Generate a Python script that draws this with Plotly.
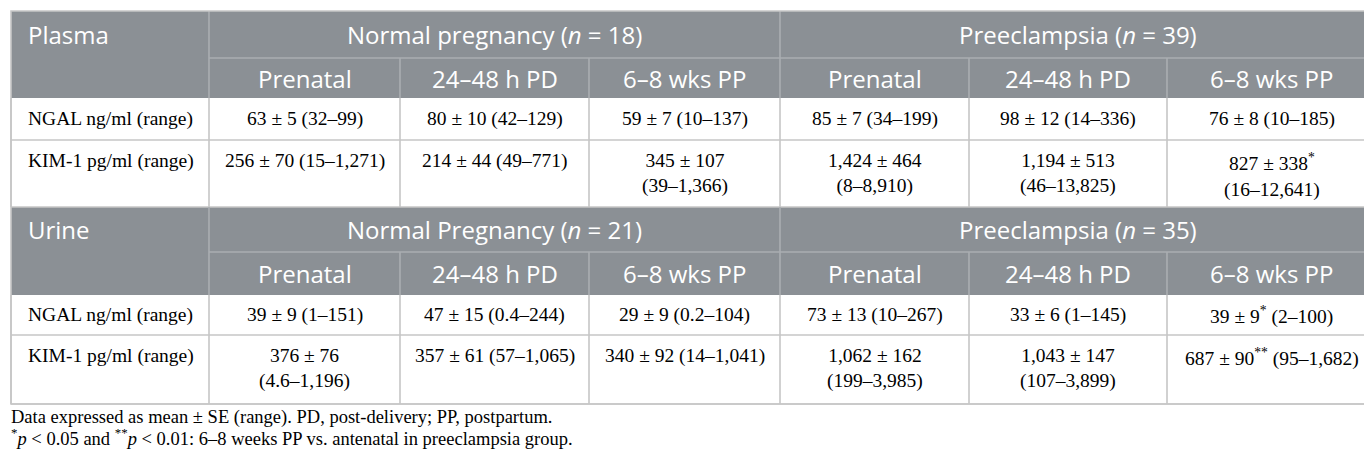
import plotly.graph_objects as go

# table content
subcols = ["Prenatal", "24–48 h PD", "6–8 wks PP"]
row_labels = ["NGAL ng/ml (range)", "KIM-1 pg/ml (range)"]

plasma_groups = ["Normal pregnancy (<i>n</i> = 18)", "Preeclampsia (<i>n</i> = 39)"]
plasma_ngal = ["63 ± 5 (32–99)", "80 ± 10 (42–129)", "59 ± 7 (10–137)",
               "85 ± 7 (34–199)", "98 ± 12 (14–336)", "76 ± 8 (10–185)"]
plasma_kim = ["256 ± 70 (15–1,271)", "214 ± 44 (49–771)", "345 ± 107<br>(39–1,366)",
              "1,424 ± 464<br>(8–8,910)", "1,194 ± 513<br>(46–13,825)",
              "827 ± 338<sup>*</sup><br>(16–12,641)"]

urine_groups = ["Normal Pregnancy (<i>n</i> = 21)", "Preeclampsia (<i>n</i> = 35)"]
urine_ngal = ["39 ± 9 (1–151)", "47 ± 15 (0.4–244)", "29 ± 9 (0.2–104)",
              "73 ± 13 (10–267)", "33 ± 6 (1–145)", "39 ± 9<sup>*</sup> (2–100)"]
urine_kim = ["376 ± 76<br>(4.6–1,196)", "357 ± 61 (57–1,065)", "340 ± 92 (14–1,041)",
             "1,062 ± 162<br>(199–3,985)", "1,043 ± 147<br>(107–3,899)",
             "687 ± 90<sup>**</sup> (95–1,682)"]

footnotes = ["Data expressed as mean ± SE (range). PD, post-delivery; PP, postpartum.",
             "<sup>*</sup><i>p</i> &lt; 0.05 and <sup>**</sup><i>p</i> &lt; 0.01: "
             "6–8 weeks PP vs. antenatal in preeclampsia group."]

blocks = [("Plasma", plasma_groups, plasma_ngal, plasma_kim),
          ("Urine", urine_groups, urine_ngal, urine_kim)]

# layout of the grid (pixels)
W, H = 1372, 452
col_edges = [3, 201, 392, 581, 772, 961, 1159, 1368]
block_edges = [[3, 50, 90, 132, 199], [199, 244, 287, 327, 396]]

HEAD_FILL = "#8b9095"
HEAD_LINE = "#aaaeb2"
BODY_LINE = "#c6c6c6"
SANS = "Open Sans"
SERIF = "Liberation Serif"
HEAD_SIZE = 24
BODY_SIZE = 19.5

shapes = []
annotations = []


def line(x0, y0, x1, y1, color, width=1.6):
    shapes.append(dict(type="line", x0=x0, y0=y0, x1=x1, y1=y1, xref="x", yref="y",
                       line=dict(color=color, width=width)))


def text(x, y, s, size, color, family, xanchor="center", yanchor="middle"):
    annotations.append(dict(x=x, y=y, text=s, showarrow=False, xref="x", yref="y",
                            xanchor=xanchor, yanchor=yanchor, align="center",
                            font=dict(size=size, color=color, family=family)))


left, right = col_edges[0], col_edges[-1]
group_split = col_edges[4]

for (name, groups, ngal, kim), e in zip(blocks, block_edges):
    top, r1, r2, r3, bottom = e
    # header background
    shapes.append(dict(type="rect", x0=left, x1=right, y0=top, y1=r2, xref="x", yref="y",
                       fillcolor=HEAD_FILL, line=dict(width=0), layer="below"))
    line(col_edges[1], r1, right, r1, HEAD_LINE)
    for cx in [col_edges[1], group_split]:
        line(cx, top, cx, r2, HEAD_LINE)
    for cx in col_edges[2:4] + col_edges[5:7]:
        line(cx, r1, cx, r2, HEAD_LINE)
    # body grid
    line(left, r3, right, r3, BODY_LINE)
    line(left, bottom, right, bottom, BODY_LINE)
    for cx in col_edges:
        line(cx, r2, cx, bottom, BODY_LINE)

    # header text
    text(left + 15, (top + r1) / 2, name, HEAD_SIZE, "white", SANS, xanchor="left")
    text((col_edges[1] + group_split) / 2, (top + r1) / 2, groups[0], HEAD_SIZE, "white", SANS)
    text((group_split + right) / 2, (top + r1) / 2, groups[1], HEAD_SIZE, "white", SANS)
    for i in range(6):
        cx = (col_edges[i + 1] + col_edges[i + 2]) / 2
        text(cx, (r1 + r2) / 2, subcols[i % 3], HEAD_SIZE, "white", SANS)

    # body text
    text(left + 15, (r2 + r3) / 2, row_labels[0], BODY_SIZE, "black", SERIF, xanchor="left")
    text(left + 15, r3 + 8, row_labels[1], BODY_SIZE, "black", SERIF, xanchor="left", yanchor="top")
    for i in range(6):
        cx = (col_edges[i + 1] + col_edges[i + 2]) / 2
        text(cx, (r2 + r3) / 2, ngal[i], BODY_SIZE, "black", SERIF)
        text(cx, r3 + 8, kim[i], BODY_SIZE, "black", SERIF, yanchor="top")

# outer frame
shapes.append(dict(type="rect", x0=left, x1=right, y0=block_edges[0][0], y1=block_edges[1][-1],
                   xref="x", yref="y", line=dict(color=BODY_LINE, width=1.6)))

text(left - 2, 409, footnotes[0], 18.5, "black", SERIF, xanchor="left")
text(left - 2, 429, footnotes[1], 18.5, "black", SERIF, xanchor="left")

fig = go.Figure()
fig.update_layout(width=W, height=H, margin=dict(l=0, r=0, t=0, b=0),
                  plot_bgcolor="white", paper_bgcolor="white",
                  xaxis=dict(range=[0, W], visible=False, fixedrange=True),
                  yaxis=dict(range=[H, 0], visible=False, fixedrange=True),
                  shapes=shapes, annotations=annotations, showlegend=False)
fig.write_html("out.html", config={"displayModeBar": False})
